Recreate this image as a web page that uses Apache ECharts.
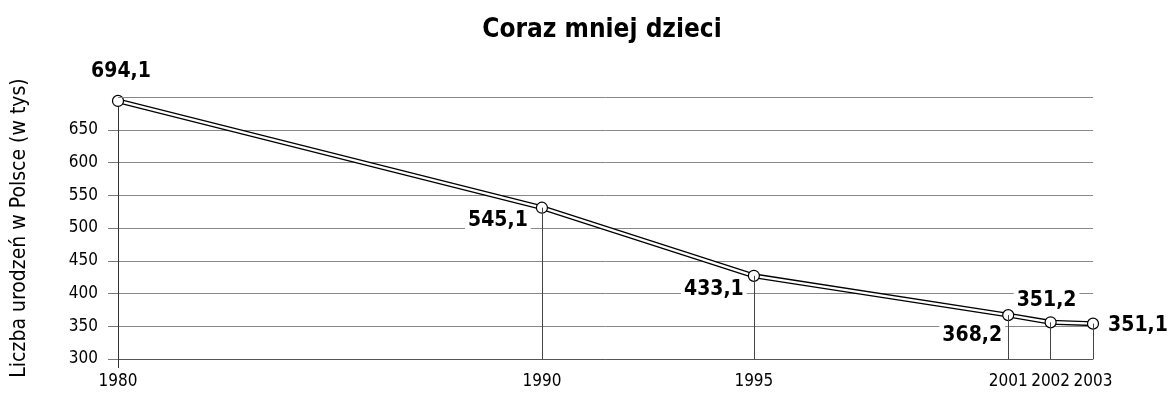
<!DOCTYPE html>
<html>
<head>
<meta charset="utf-8">
<script src="https://cdn.jsdelivr.net/npm/echarts@6/dist/echarts.min.js"></script>
<style>
  html, body { margin: 0; padding: 0; background: #fff; }
  #chart { width: 1175px; height: 401px; }
</style>
</head>
<body>
<div id="chart"></div>
<script>
// dane z wykresu
var years = [1980, 1990, 1995, 2001, 2002, 2003];
var births = [694, 531, 427, 367, 356, 354]; // polozenie punktow
var labelTexts = ["694,1", "545,1", "433,1", "368,2", "351,2", "351,1"];
var yTicks = [300, 350, 400, 450, 500, 550, 600, 650];

var narrow = "'DejaVu Sans Condensed', 'Liberation Sans Narrow', sans-serif";

// przesuniecia etykiet wzgledem punktu
var labelOffsets = [[3, -29], [-44, 13], [-40, 14], [-36, 20], [-4, -22], [45, 2]];

var points = years.map(function (y, i) {
  return {
    value: [y, births[i]],
    label: { position: "inside", offset: labelOffsets[i] }
  };
});

var dropLines = years.slice(1).map(function (y, i) {
  return [{ coord: [y, 300] }, { coord: [y, births[i + 1]] }];
});
// gorna linia siatki (700, bez opisu)
dropLines.push({ yAxis: 700, lineStyle: { color: "#888" } });

var chart = echarts.init(document.getElementById("chart"));
var option = {
  animation: false,
  backgroundColor: "#fff",
  title: {
    text: "Coraz mniej dzieci",
    left: 597,
    top: 12,
    textAlign: "center",
    textStyle: { fontFamily: narrow, fontWeight: "bold", fontSize: 26, color: "#000" }
  },
  grid: { left: 118, right: 82, top: 97, bottom: 42 },
  xAxis: {
    type: "value",
    min: 1980,
    max: 2003,
    interval: 1,
    axisLine: { lineStyle: { color: "#555", width: 1 } },
    axisTick: { show: true, customValues: [1980], length: 9, lineStyle: { color: "#333" } },
    splitLine: { show: false },
    axisLabel: {
      margin: 14,
      fontFamily: narrow,
      fontSize: 17,
      color: "#000",
      hideOverlap: false,
      showMinLabel: true,
      showMaxLabel: true,
      customValues: years,
      formatter: function (v) { return String(v); }
    }
  },
  yAxis: {
    type: "value",
    min: 300,
    max: 700,
    interval: 50,
    name: "Liczba urodzeń w Polsce (w tys)",
    nameLocation: "middle",
    nameGap: 88,
    nameTextStyle: { fontFamily: narrow, fontSize: 21, color: "#000" },
    axisLine: { show: true, lineStyle: { color: "#333", width: 1 } },
    axisTick: { show: true, length: 10, customValues: yTicks, lineStyle: { color: "#777" } },
    splitLine: { show: true, lineStyle: { color: "#888", width: 1 } },
    axisLabel: {
      margin: 20,
      fontFamily: narrow,
      fontSize: 17,
      color: "#000",
      customValues: yTicks
    }
  },
  series: [
    {
      type: "line",
      data: points.map(function (p) { return p.value; }),
      symbol: "none",
      lineStyle: { color: "#000", width: 5 },
      silent: true,
      z: 2,
      markLine: {
        silent: true,
        symbol: "none",
        label: { show: false },
        lineStyle: { color: "#444", width: 1, type: "solid" },
        data: dropLines
      }
    },
    {
      type: "line",
      data: points,
      symbol: "circle",
      symbolSize: 11,
      itemStyle: { color: "#fff", borderColor: "#000", borderWidth: 1.2 },
      lineStyle: { color: "#fff", width: 2.4 },
      z: 3,
      label: {
        show: true,
        fontFamily: narrow,
        fontWeight: "bold",
        fontSize: 21,
        color: "#000",
        backgroundColor: "#fff",
        padding: [0, 3],
        formatter: function (p) { return labelTexts[p.dataIndex]; }
      }
    }
  ]
};
chart.setOption(option);
</script>
</body>
</html>
